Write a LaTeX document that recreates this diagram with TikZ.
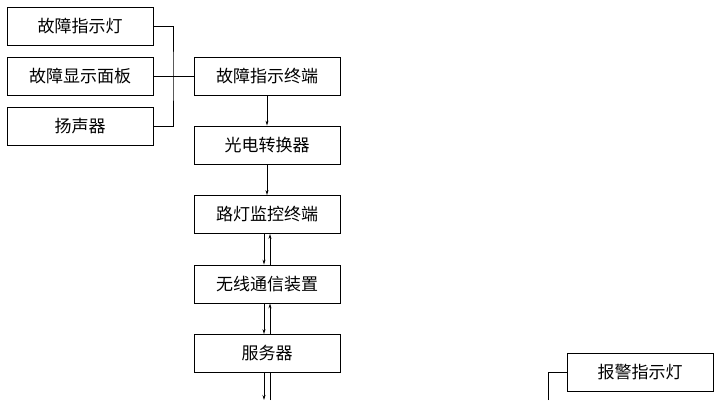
\documentclass[tikz,border=0pt]{standalone}
\usepackage{fontspec}
\newfontfamily\cjk{Noto Sans CJK SC}[BoldFont={Noto Sans CJK SC Bold}]
\usetikzlibrary{positioning,arrows.meta}
\tikzset{
  unitbox/.style={draw, thick, minimum width=146pt, minimum height=38pt, inner sep=0pt, font=\cjk\fontsize{17pt}{19pt}\selectfont},
  link/.style={thick},
  flow/.style={thick, -{Stealth[length=5pt,width=3pt]}}
}
\begin{document}
\begin{tikzpicture}[x=1pt,y=-1pt]
    \useasboundingbox (0,0) rectangle (720,400);

    % 左侧三个设备
    \node[unitbox] (lamp) at (80,26) {故障指示灯};
    \node[unitbox] (panel) at (80,76) {故障显示面板};
    \node[unitbox] (speaker) at (80,126) {扬声器};

    % 中间一列
    \node[unitbox] (term) at (267,76) {故障指示终端};
    \node[unitbox] (conv) at (267,145) {光电转换器};
    \node[unitbox] (mon) at (267,214.5) {路灯监控终端};
    \node[unitbox] (wifi) at (267,284) {无线通信装置};
    \node[unitbox] (srv) at (267,353.5) {服务器};

    % 右下报警灯
    \node[unitbox] (alarm) at (640,372.5) {报警指示灯};

    % 左侧括号连线
    \coordinate (bus) at (173,76);
    \draw[link] (lamp.east) -| (bus) |- (speaker.east);
    \draw[link] (panel.east) -- (term.west);

    % 单向箭头
    \draw[flow] (term.south) -- (conv.north);
    \draw[flow] (conv.south) -- (mon.north);

    % 双向连线
    \draw[flow] ([xshift=-3pt]mon.south) -- ([xshift=-3pt]wifi.north);
    \draw[flow] ([xshift=3pt]wifi.north) -- ([xshift=3pt]mon.south);
    \draw[flow] ([xshift=-3pt]wifi.south) -- ([xshift=-3pt]srv.north);
    \draw[flow] ([xshift=3pt]srv.north) -- ([xshift=3pt]wifi.south);

    % 服务器向下
    \coordinate (srvdown) at (264,400);
    \coordinate (srvup) at (270,400);
    \draw[flow] ([xshift=-3pt]srv.south) -- (srvdown);
    \draw[link] (srvup) -- ([xshift=3pt]srv.south);

    % 报警灯连线
    \coordinate (alarmin) at (548,400);
    \draw[link] (alarmin) |- (alarm.west);
\end{tikzpicture}
\end{document}
